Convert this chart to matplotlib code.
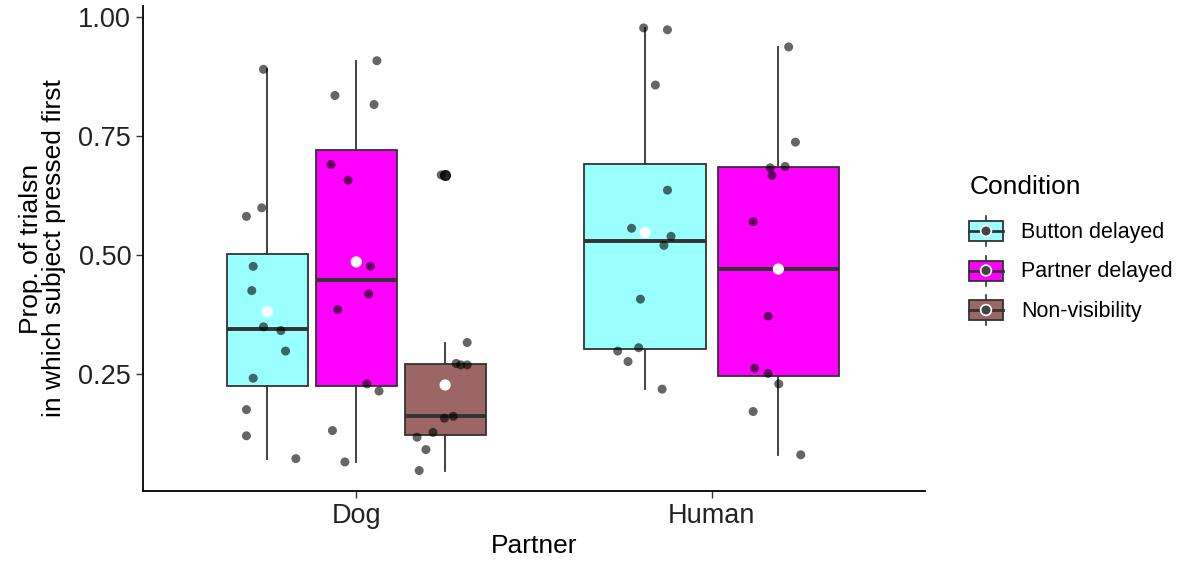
import numpy as np
import matplotlib
matplotlib.use("Agg")
import matplotlib.pyplot as plt
from matplotlib.patches import Rectangle

plt.rcParams["font.family"] = ["Liberation Sans", "DejaVu Sans"]

# --- data ---
partners = ["Dog", "Human"]
conditions = ["Button delayed", "Partner delayed", "Non-visibility"]
colors = {"Button delayed": "#99ffff", "Partner delayed": "#ff00ff", "Non-visibility": "#9b6665"}

dog_button = [0.890, 0.599, 0.581, 0.476, 0.425, 0.349, 0.341, 0.298, 0.241, 0.175, 0.120, 0.072]
dog_partner = [0.908, 0.835, 0.816, 0.690, 0.657, 0.476, 0.418, 0.385, 0.229, 0.214, 0.131, 0.065]
dog_nonvis = [0.668, 0.316, 0.272, 0.269, 0.269, 0.157, 0.161, 0.127, 0.117, 0.091, 0.047]
human_button = [0.977, 0.973, 0.857, 0.636, 0.556, 0.539, 0.520, 0.407, 0.305, 0.298, 0.276, 0.218]
human_partner = [0.937, 0.737, 0.683, 0.686, 0.667, 0.570, 0.371, 0.262, 0.251, 0.229, 0.171, 0.080]

# horizontal jitter of each point (x units), as drawn in the reference
jit_dog_button = [-0.011, -0.016, -0.059, -0.040, -0.044, -0.011, 0.038, 0.051, -0.040, -0.059, -0.059, 0.080]
jit_dog_partner = [0.058, -0.060, 0.050, -0.071, -0.023, 0.040, 0.035, -0.052, 0.030, 0.064, -0.067, -0.032]
jit_dog_nonvis = [-0.011, 0.062, 0.031, 0.044, 0.062, -0.002, 0.023, -0.034, -0.079, -0.054, -0.073]
jit_human_button = [-0.004, 0.063, 0.029, 0.063, -0.038, 0.073, 0.053, -0.013, -0.018, -0.077, -0.048, 0.048]
jit_human_partner = [0.029, 0.048, -0.023, 0.019, -0.018, -0.071, -0.029, -0.067, -0.029, 0.001, -0.071, 0.063]

groups = [
    ("Dog", "Button delayed", dog_button, jit_dog_button),
    ("Dog", "Partner delayed", dog_partner, jit_dog_partner),
    ("Dog", "Non-visibility", dog_nonvis, jit_dog_nonvis),
    ("Human", "Button delayed", human_button, jit_human_button),
    ("Human", "Partner delayed", human_partner, jit_human_partner),
]

EDGE = "#333333"
DODGE = 0.75

fig = plt.figure(figsize=(11.9, 5.69), dpi=100)
ax = fig.add_axes([143 / 1190, 1 - 491 / 569, (925 - 143) / 1190, (491 - 6) / 569])

for pi, p in enumerate(partners):
    conds = [g for g in groups if g[0] == p]
    n = len(conds)
    slot = DODGE / n
    for ci, (_, cond, vals, jit) in enumerate(conds):
        xc = pi + 1 - DODGE / 2 + slot * (ci + 0.5)
        w = slot * 0.91
        vals = np.asarray(vals)
        bp = ax.boxplot([vals], positions=[xc], widths=w, patch_artist=True,
                        whis=1.5, showcaps=False, manage_ticks=False,
                        boxprops=dict(facecolor=colors[cond], edgecolor=EDGE, lw=1.3),
                        whiskerprops=dict(color=EDGE, lw=1.3),
                        medianprops=dict(color=EDGE, lw=2.8),
                        flierprops=dict(marker="o", markerfacecolor="black", markeredgecolor="black",
                                        markersize=7, alpha=0.85))
        for b in bp["boxes"]:
            b.set_zorder(2)
        ax.scatter(xc + np.asarray(jit), vals, s=42, color="black", alpha=0.6,
                   edgecolors="none", zorder=4)
        ax.scatter([xc], [vals.mean()], s=65, color="white", edgecolors="none", zorder=5)

ax.set_xlim(0.4, 2.6)
ax.set_ylim(0.004, 1.023)
ax.set_xticks([1, 2])
ax.set_xticklabels(partners)
ax.set_yticks([0.25, 0.5, 0.75, 1.0])
ax.set_yticklabels(["0.25", "0.50", "0.75", "1.00"])
ax.tick_params(labelsize=19.5, colors="#333333", length=5, width=1)
for lab in ax.get_xticklabels() + ax.get_yticklabels():
    lab.set_color("#222222")
for s in ["top", "right"]:
    ax.spines[s].set_visible(False)
for s in ["left", "bottom"]:
    ax.spines[s].set_linewidth(1.3)
ax.set_xlabel("Partner", fontsize=19, labelpad=4)
ax.set_ylabel("Prop. of trialsn\nin which subject pressed first", fontsize=19, labelpad=9,
              linespacing=0.95)

# --- legend drawn as mini boxplot keys ---
lg = fig.add_axes([0, 0, 1, 1])
lg.set_xlim(0, 1190)
lg.set_ylim(569, 0)
lg.axis("off")
lg.text(970, 187, "Condition", fontsize=19, va="center", ha="left")
for i, cond in enumerate(conditions):
    yc = 231 + i * 39.5
    lg.plot([986, 986], [yc - 15, yc + 15], color=EDGE, lw=1.2, zorder=1)
    lg.add_patch(Rectangle((969, yc - 10), 34, 20, facecolor=colors[cond], edgecolor=EDGE,
                           lw=1.3, zorder=2))
    lg.plot([969, 1003], [yc, yc], color=EDGE, lw=2, zorder=3)
    lg.scatter([986], [yc], s=80, color="white", edgecolors="none", zorder=4)
    lg.scatter([986], [yc], s=42, color="#444444", edgecolors="none", zorder=5)
    lg.text(1021, yc + 1, cond, fontsize=15.5, va="center", ha="left")

fig.savefig("out.png", dpi=100)
